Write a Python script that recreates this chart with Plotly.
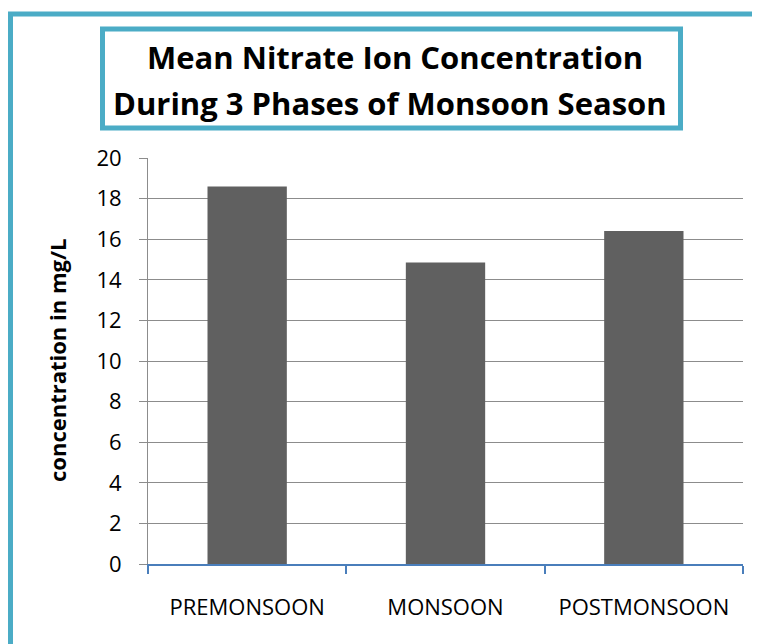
import plotly.graph_objects as go

categories = ["PREMONSOON", "MONSOON", "POSTMONSOON"]
values = [18.6, 14.85, 16.4]
y_ticks = [0, 2, 4, 6, 8, 10, 12, 14, 16, 18, 20]
title_lines = ["Mean Nitrate Ion Concentration", "During 3 Phases of Monsoon Season"]
y_title = "concentration in mg/L"

# page body has an 8px margin; figure coordinates are window coordinates - 8
W, H = 760, 644
L, R, T, B = 140, 25, 150, 88
pw, ph = W - L - R, H - T - B

def px(x):
    return (x - L) / pw

def py(y):
    return (H - B - y) / ph

FONT = "Open Sans"
TEAL = "#4BACC6"

fig = go.Figure(go.Bar(
    x=categories, y=values, marker=dict(color="#606060", line=dict(width=0)),
    width=0.4,
))

fig.update_layout(
    width=W, height=H,
    margin=dict(l=L, r=R, t=T, b=B),
    paper_bgcolor="white", plot_bgcolor="white",
    showlegend=False,
    font=dict(family=FONT, color="black"),
    xaxis=dict(
        type="category", showgrid=False, showline=True, linecolor="#4A7EBB", linewidth=1.5,
        ticks="outside", tickson="boundaries", ticklen=8, tickcolor="#4A7EBB", tickwidth=1.5,
        tickfont=dict(size=22, family=FONT), ticklabelstandoff=23,
    ),
    yaxis=dict(
        range=[0, 20], tickvals=y_ticks, showgrid=True, gridcolor="#8C8C8C", gridwidth=1,
        showline=True, linecolor="#8C8C8C", linewidth=1, zeroline=False,
        ticks="outside", ticklen=8, tickcolor="#8C8C8C",
        tickfont=dict(size=22, family=FONT), ticklabelstandoff=13,
    ),
    shapes=[
        dict(type="rect", xref="paper", yref="paper",
             x0=px(2.5), x1=px(780), y0=py(6), y1=py(680),
             line=dict(color=TEAL, width=5), layer="above"),
        dict(type="rect", xref="paper", yref="paper",
             x0=px(94.5), x1=px(672.5), y0=py(21), y1=py(120),
             line=dict(color=TEAL, width=5), layer="above"),
    ],
    annotations=[
        dict(text="<b>" + title_lines[0] + "</b>", xref="paper", yref="paper",
             x=px(387), y=py(49), showarrow=False, font=dict(size=31, family=FONT),
             xanchor="center", yanchor="middle"),
        dict(text="<b>" + title_lines[1] + "</b>", xref="paper", yref="paper",
             x=px(382), y=py(95), showarrow=False, font=dict(size=31, family=FONT),
             xanchor="center", yanchor="middle"),
        dict(text="<b>" + y_title + "</b>", xref="paper", yref="paper",
             x=px(49), y=py(353), showarrow=False, textangle=-90,
             font=dict(size=22, family=FONT), xanchor="center", yanchor="middle"),
    ],
)

fig.write_html("out.html")
